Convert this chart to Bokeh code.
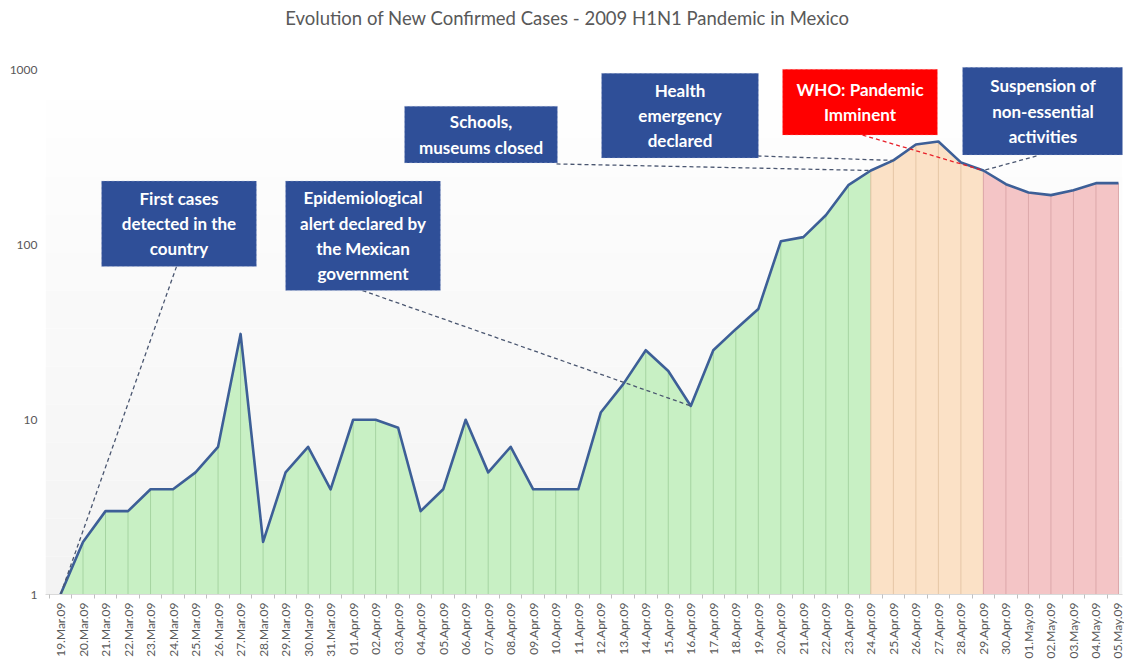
import math
from bokeh.plotting import figure
from bokeh.models import Range1d, FixedTicker, NumeralTickFormatter, BoxAnnotation, Label
from bokeh.embed import file_html
from bokeh.resources import INLINE

# ---------------- data ----------------
dates = ["19.Mar.09", "20.Mar.09", "21.Mar.09", "22.Mar.09", "23.Mar.09", "24.Mar.09",
         "25.Mar.09", "26.Mar.09", "27.Mar.09", "28.Mar.09", "29.Mar.09", "30.Mar.09",
         "31.Mar.09", "01.Apr.09", "02.Apr.09", "03.Apr.09", "04.Apr.09", "05.Apr.09",
         "06.Apr.09", "07.Apr.09", "08.Apr.09", "09.Apr.09", "10.Apr.09", "11.Apr.09",
         "12.Apr.09", "13.Apr.09", "14.Apr.09", "15.Apr.09", "16.Apr.09", "17.Apr.09",
         "18.Apr.09", "19.Apr.09", "20.Apr.09", "21.Apr.09", "22.Apr.09", "23.Apr.09",
         "24.Apr.09", "25.Apr.09", "26.Apr.09", "27.Apr.09", "28.Apr.09", "29.Apr.09",
         "30.Apr.09", "01.May.09", "02.May.09", "03.May.09", "04.May.09", "05.May.09"]
new_cases = [1, 2, 3, 3, 4, 4, 5, 7, 31, 2, 5, 7, 4,
             10, 10, 9, 3, 4, 10, 5, 7, 4, 4, 4, 11, 16, 25, 19, 12, 25, 33, 43,
             105, 111, 148, 220, 267, 305, 376, 391, 297, 267, 223,
             200, 193, 206, 226, 226]
y_ticks = [1, 10, 100, 1000]

phase_start = ["19.Mar.09", "24.Apr.09", "29.Apr.09"]
phase_end = ["24.Apr.09", "29.Apr.09", "05.May.09"]
phase_fill = ["#c8f0c4", "#fbe1c6", "#f4c5c6"]
phase_rule = ["#a6d4a2", "#e5c6a6", "#dca8aa"]

event_texts = ["First cases\ndetected in the\ncountry",
               "Epidemiological\nalert declared by\nthe Mexican\ngovernment",
               "Schools,\nmuseums closed",
               "Health\nemergency\ndeclared",
               "WHO: Pandemic\nImminent",
               "Suspension of\nnon-essential\nactivities"]
event_dates = ["19.Mar.09", "16.Apr.09", "24.Apr.09", "25.Apr.09", "29.Apr.09", "29.Apr.09"]

title_text = "Evolution of New Confirmed Cases - 2009 H1N1 Pandemic in Mexico"

# ---------------- layout (reference pixel positions of annotation boxes) ----------------
box_px = [(101, 181, 256, 267), (285, 181, 440, 291), (404, 106, 557, 163),
          (601, 73, 758, 158), (782, 69, 937, 135), (962, 67, 1123, 155)]
anchor_px = [(176, 267), (362, 291), (556, 164), (757, 156), (862, 135), (1036, 156)]
box_fill = ["#2f4f98", "#2f4f98", "#2f4f98", "#2f4f98", "#ff0000", "#2f4f98"]
box_border = ["#c9d2e6", "#c9d2e6", "#c9d2e6", "#c9d2e6", "#ffb3b3", "#c9d2e6"]
conn_color = ["#4a5670", "#4a5670", "#4a5670", "#4a5670", "#e8202a", "#4a5670"]

X0, DX, Y0, DEC = 60.0, 22.51, 596.0, 175.33


def dx(px):
    return (px - X0) / DX


def dy(py):
    return 10 ** ((Y0 - py) / DEC)


idx = list(range(len(dates)))

W, H = 1124, 661
p = figure(width=W, height=H, y_axis_type="log",
           x_range=Range1d(dx(45), dx(1122)), y_range=Range1d(1, dy(4)),
           output_backend="svg", toolbar_location=None,
           min_border_left=45, min_border_right=2, min_border_top=4, min_border_bottom=65)

p.xgrid.visible = False
p.ygrid.visible = False
p.outline_line_color = None
p.background_fill_color = "#ffffff"

# subtle vertical gradient of the plot area (white at top, light grey at bottom)
n_bands = 14
for k in range(n_bands):
    top_px = 62 + (596 - 62) * k / n_bands
    bot_px = 62 + (596 - 62) * (k + 1) / n_bands
    g = int(round(255 - 12 * (k + 0.5) / n_bands))
    p.add_layout(BoxAnnotation(top=dy(top_px), bottom=dy(bot_px), fill_color=(g, g, g),
                               fill_alpha=1, line_color=None, level="underlay"))

# phase areas
for s, e, fc, rc in zip(phase_start, phase_end, phase_fill, phase_rule):
    i0, i1 = dates.index(s), dates.index(e)
    xs = idx[i0:i1 + 1]
    ys = new_cases[i0:i1 + 1]
    p.varea(x=xs, y1=[1] * len(xs), y2=ys, fill_color=fc, fill_alpha=1)
    p.segment(x0=xs, y0=[1] * len(xs), x1=xs, y1=ys, line_color=rc, line_width=1)

p.line(idx, new_cases, line_color="#3d5f97", line_width=2.6, line_join="round")

# connectors
for d, (ax, ay), cc in zip(event_dates, anchor_px, conn_color):
    i = dates.index(d)
    p.line([dx(ax), i], [dy(ay), new_cases[i]], line_color=cc, line_width=1.3, line_dash="4 3")

# boxes + text
for t, (l, tp, r, b), fc, bc in zip(event_texts, box_px, box_fill, box_border):
    p.add_layout(BoxAnnotation(left=dx(l), right=dx(r), top=dy(tp), bottom=dy(b),
                               fill_color=fc, fill_alpha=1, line_color=bc,
                               line_dash="3 2", line_width=1.2))
    p.add_layout(Label(x=dx((l + r) / 2), y=dy((tp + b) / 2), text=t,
                       text_align="center", text_baseline="middle",
                       text_color="white", text_font="Lato", text_font_size="17px",
                       text_font_style="bold", text_line_height=1.2))

# title
p.add_layout(Label(x=dx(567), y=dy(18), text=title_text,
                   text_align="center", text_baseline="middle",
                   text_font="Lato", text_font_size="18.5px", text_color="#595959"))

# axes
p.xaxis.ticker = FixedTicker(ticks=idx, minor_ticks=[i + 0.5 for i in range(-1, len(idx))])
p.xaxis.major_label_overrides = {i: d for i, d in zip(idx, dates)}
p.xaxis.major_label_orientation = math.pi / 2
p.xaxis.major_tick_line_color = None
p.xaxis.major_tick_out = 0
p.xaxis.major_tick_in = 0
p.xaxis.minor_tick_line_color = "#bfbfbf"
p.xaxis.minor_tick_out = 4
p.xaxis.minor_tick_in = 0
p.xaxis.axis_line_color = "#d9d9d9"
p.xaxis.major_label_text_font = "Lato"
p.xaxis.major_label_text_font_size = "12px"
p.xaxis.major_label_text_color = "#595959"
p.xaxis.major_label_standoff = 4

p.yaxis.ticker = FixedTicker(ticks=y_ticks)
p.yaxis.formatter = NumeralTickFormatter(format="0")
p.yaxis.axis_line_color = None
p.yaxis.major_tick_line_color = None
p.yaxis.major_tick_out = 0
p.yaxis.major_tick_in = 0
p.yaxis.minor_tick_line_color = None
p.yaxis.major_label_text_font = "Lato"
p.yaxis.major_label_text_font_size = "12px"
p.yaxis.major_label_text_color = "#595959"
p.yaxis.major_label_standoff = 8

open("out.html", "w").write(file_html(p, INLINE))
